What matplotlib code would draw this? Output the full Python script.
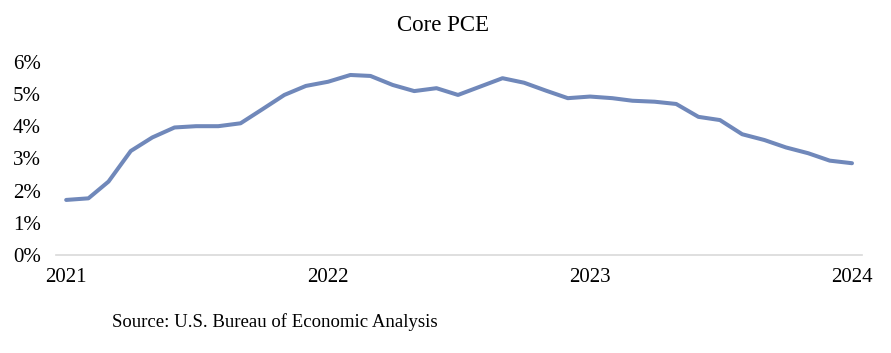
"""Core PCE year-over-year inflation, monthly 2021-2024."""

import pandas as pd
import matplotlib
matplotlib.use("Agg")
import matplotlib.pyplot as plt
from matplotlib.ticker import FuncFormatter

# monthly values, Jan 2021 .. Jan 2024
months = pd.date_range("2021-01-01", periods=37, freq="MS")
core_pce = [
    1.71, 1.76, 2.28, 3.23, 3.65, 3.96, 4.00, 4.00, 4.09, 4.52, 4.97, 5.25,
    5.38, 5.59, 5.56, 5.28, 5.09, 5.18, 4.97, 5.23, 5.49, 5.35, 5.10, 4.87,
    4.92, 4.87, 4.79, 4.76, 4.69, 4.29, 4.19, 3.75, 3.57, 3.34, 3.16, 2.93,
    2.85,
]
year_ticks = pd.to_datetime(["2021-01-01", "2022-01-01", "2023-01-01", "2024-01-01"])
year_labels = ["2021", "2022", "2023", "2024"]

plt.rcParams["font.family"] = ["Liberation Serif", "DejaVu Serif"]

fig = plt.figure(figsize=(8.91, 3.53), dpi=100)
ax = fig.add_axes([0.063, 0.2776, 0.9045, 0.5474])

ax.plot(months, core_pce, color="#7088BA", linewidth=2.9, solid_capstyle="round")

pad = pd.Timedelta(days=14)
ax.set_xlim(months[0] - pad, months[-1] + pad)
ax.set_ylim(0, 6)
ax.set_yticks(range(0, 7))
ax.yaxis.set_major_formatter(FuncFormatter(lambda v, _: f"{v:.0f}%"))
ax.set_xticks(year_ticks)
ax.set_xticklabels(year_labels)

for side in ("top", "right", "left"):
    ax.spines[side].set_visible(False)
ax.spines["bottom"].set_color("#D9D9D9")
ax.spines["bottom"].set_linewidth(1.2)
ax.tick_params(axis="both", length=0, labelsize=15, colors="black")
ax.tick_params(axis="x", pad=9)
ax.tick_params(axis="y", pad=11)

fig.text(0.497, 0.929, "Core PCE", ha="center", va="center", fontsize=16.5)
fig.text(0.1255, 0.088, "Source: U.S. Bureau of Economic Analysis",
         ha="left", va="center", fontsize=13.5)

fig.savefig("out.png", dpi=100)
